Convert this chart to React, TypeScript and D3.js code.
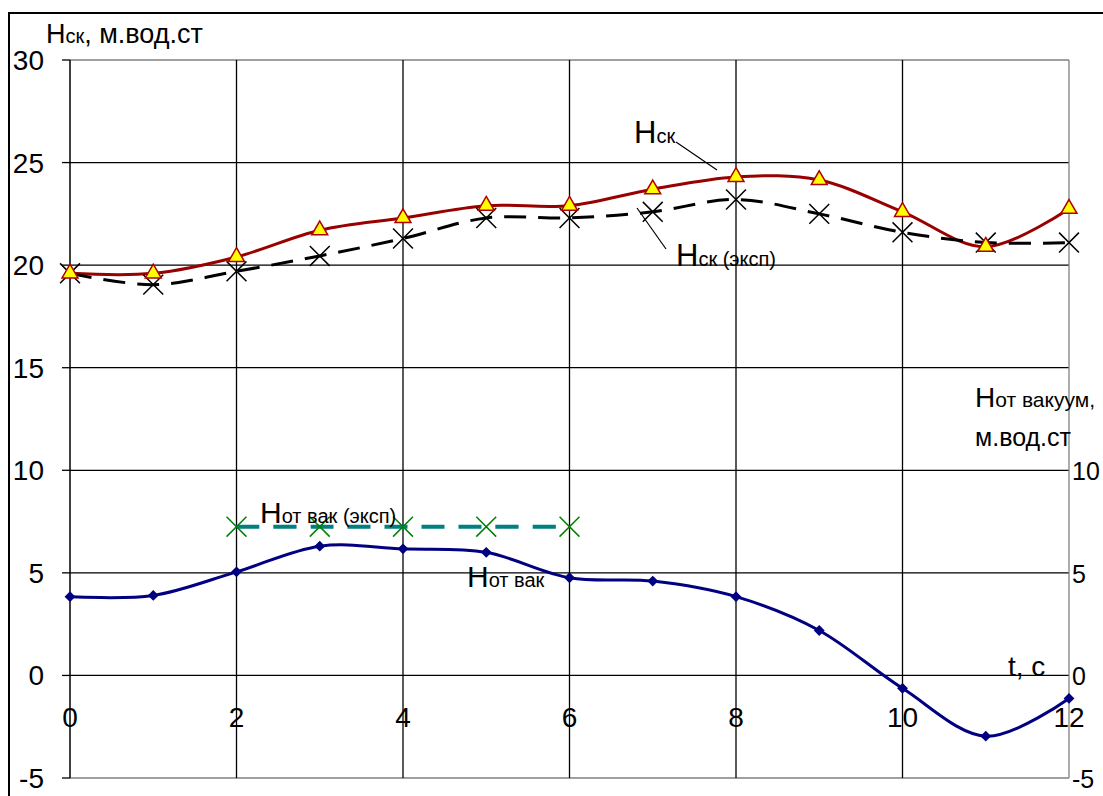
import * as d3 from "d3";

// time, s
const tSec = [0, 1, 2, 3, 4, 5, 6, 7, 8, 9, 10, 11, 12];
// Hск (calc), м.вод.ст
const hSk = [19.6, 19.6, 20.4, 21.7, 22.3, 22.9, 22.9, 23.7, 24.3, 24.15, 22.6, 20.9, 22.75];
// Hск (эксп)
const hSkExp = [19.6, 19.05, 19.7, 20.45, 21.3, 22.3, 22.3, 22.6, 23.2, 22.5, 21.6, 21.1, 21.1];
// Hот вак (calc) — right axis
const hOtVak = [3.84, 3.9, 5.05, 6.3, 6.17, 6.0, 4.76, 4.6, 3.84, 2.19, -0.63, -2.96, -1.12];
// Hот вак (эксп)
const tVakExp = [2, 3, 4, 5, 6];
const hOtVakExp = [7.25, 7.25, 7.25, 7.25, 7.25];

const xTicks = [0, 2, 4, 6, 8, 10, 12];
const yTicks = [-5, 0, 5, 10, 15, 20, 25, 30];
const yRTicks = [-5, 0, 5, 10];

const FONT = "'Liberation Sans', Arial, sans-serif";

export default function App() {
  const x = d3.scaleLinear().domain([0, 12]).range([70, 1069]);
  const y = d3.scaleLinear().domain([-5, 30]).range([778, 60]);
  const yR = d3.scaleLinear().domain([-5, 10]).range([778, y(10)]);

  const smooth = d3.curveCatmullRom.alpha(0);
  const lineL = d3.line<[number, number]>().x((d) => x(d[0])).y((d) => y(d[1])).curve(smooth);
  const lineR = d3.line<[number, number]>().x((d) => x(d[0])).y((d) => yR(d[1])).curve(smooth);

  const skPts = tSec.map((t, i) => [t, hSk[i]] as [number, number]);
  const skExpPts = tSec.map((t, i) => [t, hSkExp[i]] as [number, number]);
  const vakPts = tSec.map((t, i) => [t, hOtVak[i]] as [number, number]);
  const vakExpPts = tVakExp.map((t, i) => [t, hOtVakExp[i]] as [number, number]);

  const tri = d3.symbol(d3.symbolTriangle, 110)()!;
  const cross = d3.symbol(d3.symbolX, 260)()!;
  const diamond = d3.symbol(d3.symbolDiamond2, 75)()!;

  return (
    <svg
      width={1103}
      height={796}
      style={{ position: "absolute", left: 0, top: 0, background: "#fff" }}
      fontFamily={FONT}
    >
      <rect x={9} y={13} width={1300} height={900} fill="none" stroke="#000" strokeWidth={2} />

      {/* grid */}
      {yTicks.map((v) => (
        <line
          key={"h" + v}
          x1={x(0)}
          x2={x(12)}
          y1={y(v)}
          y2={y(v)}
          stroke={v === 30 || v === -5 ? "#808080" : "#000"}
          strokeWidth={1.3}
        />
      ))}
      {xTicks.slice(1).map((t) => (
        <line
          key={"v" + t}
          x1={x(t)}
          x2={x(t)}
          y1={y(30)}
          y2={y(-5)}
          stroke={t === 12 ? "#808080" : "#000"}
          strokeWidth={1.3}
        />
      ))}

      {/* left axis */}
      <line x1={x(0)} x2={x(0)} y1={y(30)} y2={y(-5)} stroke="#000" strokeWidth={1.5} />
      {yTicks.map((v) => (
        <g key={"yt" + v}>
          <line x1={x(0) - 8} x2={x(0)} y1={y(v)} y2={y(v)} stroke="#000" strokeWidth={1.3} />
          <text x={44} y={y(v) + 10} fontSize={28} textAnchor="end">
            {v}
          </text>
        </g>
      ))}

      {/* right axis labels */}
      {yRTicks.map((v) => (
        <text key={"yr" + v} x={1072} y={yR(v) + 10} fontSize={25}>
          {v}
        </text>
      ))}

      {/* series */}
      <path d={lineL(skPts)!} fill="none" stroke="#990000" strokeWidth={3} />
      <path d={lineL(skExpPts)!} fill="none" stroke="#000" strokeWidth={3} strokeDasharray="22,12" />
      <path d={lineR(vakPts)!} fill="none" stroke="#000080" strokeWidth={3} />
      <path d={lineR(vakExpPts)!} fill="none" stroke="#008080" strokeWidth={4} strokeDasharray="23,14" />

      {vakPts.map((d, i) => (
        <path key={"dm" + i} d={diamond} transform={`translate(${x(d[0])},${yR(d[1])})`} fill="#000080" />
      ))}
      {vakExpPts.map((d, i) => (
        <path
          key={"gx" + i}
          d={cross}
          transform={`translate(${x(d[0])},${yR(d[1])})`}
          fill="none"
          stroke="#008000"
          strokeWidth={1.5}
        />
      ))}
      {skExpPts.map((d, i) => (
        <path
          key={"bx" + i}
          d={cross}
          transform={`translate(${x(d[0])},${y(d[1])})`}
          fill="none"
          stroke="#000"
          strokeWidth={1.5}
        />
      ))}
      {skPts.map((d, i) => (
        <path
          key={"tr" + i}
          d={tri}
          transform={`translate(${x(d[0])},${y(d[1])})`}
          fill="#ffff00"
          stroke="#b00000"
          strokeWidth={1.5}
        />
      ))}

      {/* x tick labels */}
      {xTicks.map((t) => (
        <text key={"xt" + t} x={x(t)} y={727} fontSize={28} textAnchor="middle">
          {t}
        </text>
      ))}

      {/* axis titles */}
      <text x={46} y={43}>
        <tspan fontSize={27}>H</tspan>
        <tspan fontSize={20}>ск</tspan>
        <tspan fontSize={27}>, м.вод.ст</tspan>
      </text>
      <text x={975} y={407}>
        <tspan fontSize={28}>H</tspan>
        <tspan fontSize={21}>от вакуум,</tspan>
      </text>
      <text x={975} y={446} fontSize={25}>
        м.вод.ст
      </text>
      <text x={1008} y={676} fontSize={28}>
        t, c
      </text>

      {/* series labels */}
      <text x={634} y={143}>
        <tspan fontSize={31}>H</tspan>
        <tspan fontSize={20}>ск</tspan>
      </text>
      <line x1={676} y1={142} x2={717} y2={170} stroke="#000" strokeWidth={1.2} />
      <text x={676} y={266}>
        <tspan fontSize={31}>H</tspan>
        <tspan fontSize={20}>ск (эксп)</tspan>
      </text>
      <line x1={637} y1={208} x2={666} y2={249} stroke="#000" strokeWidth={1.2} />
      <text x={260} y={523}>
        <tspan fontSize={30}>H</tspan>
        <tspan fontSize={20}>от вак (эксп)</tspan>
      </text>
      <text x={467} y={587}>
        <tspan fontSize={30}>H</tspan>
        <tspan fontSize={20}>от вак</tspan>
      </text>
    </svg>
  );
}
